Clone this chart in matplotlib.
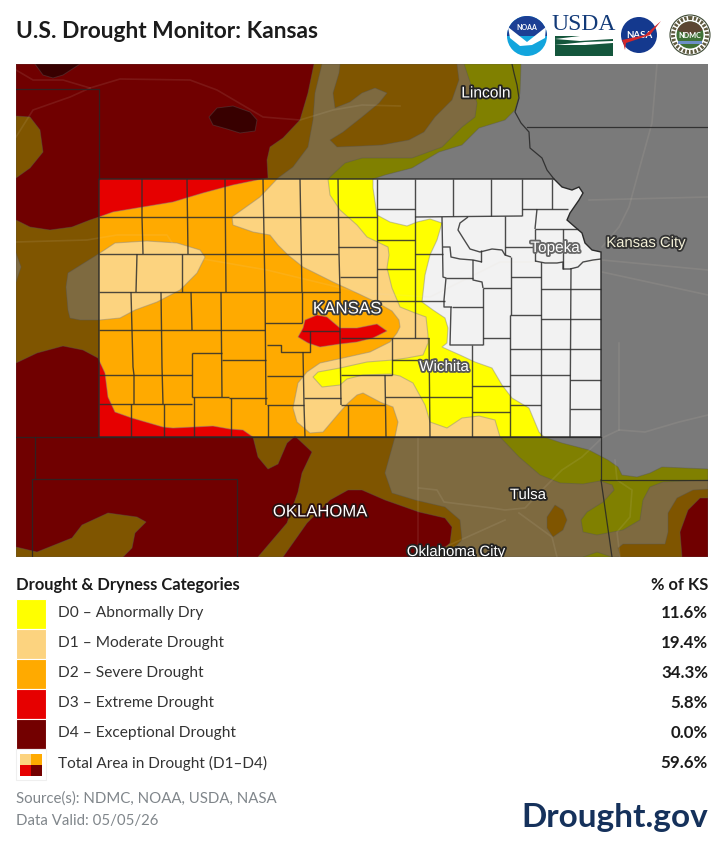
import matplotlib
matplotlib.use("Agg")
import matplotlib.pyplot as plt
import matplotlib.patheffects as pe
from matplotlib.patches import Polygon, Rectangle, Circle, Wedge

plt.rcParams['font.family'] = ['Lato', 'DejaVu Sans']

# legend table
category_labels = ["D0 – Abnormally Dry", "D1 – Moderate Drought", "D2 – Severe Drought",
                   "D3 – Extreme Drought", "D4 – Exceptional Drought"]
category_colors = ["#ffff00", "#fcd37f", "#ffaa00", "#e60000", "#730000"]
muted_colors = ["#808000", "#7e6a40", "#7f5500", "#700000", "#380000"]
category_percent = ["11.6%", "19.4%", "34.3%", "5.8%", "0.0%"]
total_label = "Total Area in Drought (D1–D4)"
total_percent = "59.6%"

# drought outlines (screen px)
d0_area = [(16, 64), (521, 64), (520, 93), (515, 110), (505, 120), (479, 128), (462, 145), (439, 152), (412, 168),
           (385, 175), (373, 179), (373, 188), (377, 215), (390, 222), (407, 226), (417, 222), (430, 219), (442, 223),
           (437, 240), (430, 255), (425, 275), (422, 302), (433, 310), (445, 318), (448, 328), (447, 343), (442, 347),
           (460, 355), (475, 362), (492, 368), (502, 385), (512, 398), (529, 408), (539, 432), (544, 437), (562, 443),
           (589, 450), (608, 460), (618, 467), (622, 475), (637, 477), (650, 473), (662, 467), (708, 469), (708, 557),
           (16, 557)]
d1_area = [(16, 64), (464, 64), (477, 103), (475, 117), (462, 127), (442, 147), (412, 158), (362, 158), (345, 163),
           (332, 175), (328, 179), (330, 195), (340, 210), (357, 225), (367, 237), (388, 247), (389, 255), (387, 268),
           (392, 288), (400, 307), (415, 313), (426, 317), (428, 335), (428, 343), (423, 355), (407, 358), (393, 360),
           (367, 362), (340, 368), (318, 372), (313, 377), (322, 387), (340, 385), (347, 379), (363, 375), (390, 374),
           (400, 376), (413, 383), (425, 405), (430, 422), (447, 428), (462, 418), (479, 416), (495, 420), (500, 437),
           (519, 457), (540, 475), (560, 483), (583, 484), (600, 481), (612, 485), (614, 490), (603, 502), (587, 512),
           (581, 520), (583, 532), (597, 535), (623, 530), (640, 520), (643, 500), (650, 487), (663, 482), (683, 481),
           (708, 480), (708, 557), (16, 557)]
d2_main = [(16, 64), (322, 64), (315, 93), (313, 120), (308, 147), (293, 167), (278, 178), (260, 197), (232, 217),
           (233, 225), (253, 232), (270, 235), (278, 245), (288, 255), (303, 267), (333, 282), (357, 293), (378, 303),
           (392, 311), (399, 320), (400, 327), (397, 333), (390, 342), (370, 352), (343, 358), (320, 363), (307, 372),
           (298, 383), (293, 408), (297, 422), (310, 433), (323, 432), (340, 412), (348, 403), (357, 395), (363, 393),
           (380, 402), (393, 407), (398, 422), (395, 437), (385, 473), (392, 493), (415, 500), (445, 507), (460, 520),
           (462, 540), (445, 557), (16, 557)]
d2_north = [(340, 64), (339, 73), (333, 93), (335, 108), (350, 102), (362, 93), (375, 88), (387, 93), (379, 103),
            (362, 117), (343, 132), (330, 140), (337, 147), (362, 146), (382, 145), (409, 140), (424, 132), (435, 117),
            (452, 100), (459, 80), (457, 64)]
d2_tulsa = [(555, 505), (563, 510), (567, 520), (563, 530), (553, 537), (547, 528), (547, 517)]
d2_southeast = [(618, 548), (623, 544), (665, 544), (668, 532), (668, 513), (677, 498), (693, 490), (708, 489),
                (708, 557), (620, 557)]
d1_west = [(100, 253), (68, 273), (66, 287), (68, 310), (70, 318), (80, 320), (100, 320), (120, 318), (135, 310),
           (157, 302), (180, 290), (197, 273), (205, 257), (200, 250), (177, 243), (147, 241), (115, 243)]
d1_edge = [(16, 253), (21, 267), (16, 282)]
d0_bottom = [(583, 557), (597, 552), (612, 557)]
d3_north = [(16, 64), (314, 64), (308, 93), (300, 120), (283, 138), (270, 147), (267, 160), (268, 178), (262, 179),
            (233, 185), (203, 193), (173, 202), (143, 207), (113, 212), (99, 217), (90, 220), (72, 227), (50, 230),
            (30, 227), (16, 220), (16, 178), (30, 168), (43, 152), (40, 130), (30, 117), (16, 116)]
d3_south = [(16, 363), (37, 353), (63, 346), (83, 350), (98, 358), (105, 373), (108, 397), (115, 412), (132, 418),
            (163, 427), (173, 428), (213, 426), (230, 429), (243, 430), (253, 437), (258, 457), (268, 469), (278, 464),
            (287, 443), (295, 436), (312, 452), (302, 473), (298, 492), (287, 523), (258, 557), (123, 557), (132, 548),
            (135, 533), (146, 522), (137, 517), (108, 513), (82, 525), (72, 538), (37, 552), (16, 547)]
d3_oklahoma = [(283, 557), (307, 523), (330, 500), (348, 490), (362, 490), (385, 500), (419, 512), (445, 518),
               (452, 527), (450, 543), (435, 557)]
d3_southeast = [(708, 498), (700, 498), (688, 510), (680, 532), (682, 557), (708, 557)]
d3_kansas = [(298, 337), (303, 328), (305, 320), (317, 315), (327, 317), (340, 328), (357, 328), (377, 324), (387, 331),
             (373, 338), (357, 342), (340, 344), (320, 347), (308, 343)]
d4_top = [(35, 64), (43, 75), (53, 78), (63, 75), (80, 64)]
d4_nebraska = [(209, 117), (217, 108), (233, 106), (250, 112), (257, 120), (255, 131), (240, 133), (227, 129), (213, 125)]

# painted bottom to top: (outline, category)
drought_layers = [(d0_area, 0), (d1_area, 1), (d2_main, 2), (d2_north, 2), (d2_tulsa, 2), (d2_southeast, 2),
                  (d1_west, 1), (d1_edge, 1), (d0_bottom, 0), (d3_north, 3), (d3_south, 3), (d3_oklahoma, 3),
                  (d3_southeast, 3), (d3_kansas, 3), (d4_top, 4), (d4_nebraska, 4)]

kansas_outline = [(99, 179), (554, 179), (562, 187), (572, 190), (579, 187), (583, 193), (579, 200), (570, 213),
                  (567, 220), (575, 227), (582, 233), (585, 243), (592, 250), (601, 252), (601, 437), (99, 437)]

state_lines = [[(512, 64), (514, 73), (517, 85), (519, 98), (515, 112), (521, 123), (529, 132), (530, 148), (542, 158),
                (547, 170), (554, 179)],
               [(527, 127), (708, 127)], [(16, 89), (99, 89), (99, 179)], [(16, 437), (601, 437)],
               [(601, 437), (601, 480), (708, 480)], [(601, 480), (612, 557)], [(35, 437), (35, 479)],
               [(32, 557), (32, 479), (237, 479), (237, 557)]]

county_lines = [
    # west and central rows
    [(99, 217), (377, 217)], [(99, 254), (338, 254)], [(99, 292), (340, 292)], [(99, 330), (265, 330)],
    [(99, 375), (192, 375)], [(99, 404), (192, 404)], [(192, 353), (222, 353)], [(222, 360), (266, 360)],
    [(192, 397), (229, 397)], [(229, 398), (267, 398)], [(265, 323), (302, 323)], [(302, 331), (340, 331)],
    [(267, 345), (281, 345), (281, 352), (310, 352), (310, 331)], [(267, 376), (303, 376)], [(267, 405), (304, 405)],
    [(304, 398), (341, 398)], [(341, 405), (385, 405)], [(341, 375), (392, 375)], [(341, 338), (429, 338)],
    [(392, 360), (429, 360)], [(385, 397), (472, 397)], [(338, 247), (377, 247)], [(340, 277), (377, 277)],
    [(377, 209), (415, 209)], [(377, 240), (415, 240)], [(377, 269), (415, 269)], [(377, 301), (445, 301)],
    [(415, 254), (443, 254)], [(415, 217), (522, 216)],
    [(142, 179), (142, 217), (143, 254)], [(187, 179), (188, 254)], [(137, 254), (136, 292)], [(182, 254), (182, 292)],
    [(225, 179), (226, 292)], [(263, 179), (265, 292)], [(300, 179), (302, 292)], [(338, 179), (339, 254), (340, 292)],
    [(131, 292), (132, 330), (133, 367), (134, 375), (134, 404)], [(161, 292), (162, 367), (163, 404)],
    [(191, 292), (192, 330)], [(221, 292), (222, 397)], [(265, 292), (266, 405)], [(302, 292), (302, 323)],
    [(340, 292), (340, 331), (341, 405)], [(192, 353), (192, 397)], [(303, 352), (304, 405)],
    [(131, 404), (131, 437)], [(164, 404), (164, 437)], [(194, 397), (194, 437)], [(231, 398), (231, 437)],
    [(268, 405), (268, 437)], [(304, 405), (305, 437)], [(348, 405), (348, 437)], [(385, 375), (386, 437)],
    [(392, 338), (392, 375)], [(429, 338), (430, 437)], [(377, 179), (377, 301)], [(415, 179), (415, 338)],
    # east side
    [(453, 179), (453, 216)], [(491, 179), (491, 216)], [(522, 179), (522, 216)], [(552, 179), (552, 209)],
    [(522, 209), (568, 209)], [(537, 209), (535, 229)], [(505, 216), (505, 255)], [(535, 229), (578, 229)],
    [(535, 229), (535, 261)], [(563, 229), (563, 269)], [(505, 247), (535, 247)],
    [(468, 217), (460, 223), (458, 230), (463, 238), (470, 249), (480, 252), (492, 249), (502, 250), (505, 255), (511, 257)],
    [(442, 217), (443, 277), (446, 278), (444, 300), (444, 307), (452, 307)],
    [(443, 247), (450, 247), (451, 257), (460, 259), (473, 260), (482, 262)],
    [(481, 250), (481, 262)], [(473, 260), (473, 280), (482, 282), (483, 288)], [(446, 278), (473, 278)],
    [(483, 288), (511, 288)], [(511, 257), (511, 315)], [(511, 277), (541, 277)], [(541, 262), (541, 437)],
    [(571, 268), (570, 437)], [(541, 289), (601, 289)], [(541, 319), (601, 319)], [(510, 315), (541, 315)],
    [(452, 307), (483, 307)], [(483, 288), (483, 345)], [(451, 307), (450, 345), (483, 345)],
    [(483, 338), (510, 338)], [(510, 315), (510, 437)], [(472, 345), (472, 437)], [(472, 386), (510, 386)],
    [(472, 412), (510, 412)], [(510, 349), (601, 349)], [(510, 375), (570, 375)], [(570, 380), (601, 380)],
    [(570, 409), (601, 409)], [(510, 405), (541, 405)],
    [(535, 261), (545, 263), (557, 263), (563, 262), (563, 269), (570, 269), (578, 267), (583, 262), (593, 260), (601, 259)],
]

roads = [[(16, 70), (33, 80), (63, 80), (90, 88), (120, 79), (190, 80), (217, 90), (263, 117), (300, 120), (333, 110), (362, 105), (400, 106)],
         [(16, 137), (33, 110), (70, 97), (90, 88)],
         [(16, 242), (87, 240), (117, 235), (167, 235), (180, 255), (267, 270), (362, 293), (430, 297), (500, 262), (601, 262)],
         [(419, 488), (437, 490), (444, 502), (492, 508), (505, 510), (525, 508), (545, 487), (562, 470), (582, 457), (602, 438), (619, 430), (645, 432), (679, 422), (708, 415)],
         [(519, 513), (552, 537), (557, 557)], [(505, 520), (445, 547)], [(418, 437), (418, 557)], [(619, 343), (619, 430)],
         [(657, 64), (652, 123), (639, 170), (629, 207), (619, 227), (602, 247)], [(602, 260), (708, 270)], [(602, 272), (708, 295)],
         [(589, 200), (708, 197)], [(615, 460), (617, 480), (632, 490), (630, 517), (617, 532), (620, 557)]]

# name, x, y, size, text color, halo color
map_labels = [("Lincoln", 486, 93, 11.2, "white", "#222222"), ("Kansas City", 646, 243, 10.7, "#f4f1d8", "#333333"),
              ("Topeka", 555, 248, 11, "white", "#666666"), ("KANSAS", 347, 309, 12.2, "white", "#3a3a3a"),
              ("Wichita", 444, 367, 10.9, "white", "#555555"), ("Tulsa", 528, 495, 10.8, "white", "#222222"),
              ("OKLAHOMA", 320, 512, 12, "white", "#2a1010"), ("Oklahoma City", 456, 552, 10.8, "white", "#222222")]

fig = plt.figure(figsize=(7.24, 8.61), dpi=100)

# page axes in pixels
ax = fig.add_axes([0, 0, 1, 1])
ax.set_xlim(0, 724)
ax.set_ylim(861, 0)
ax.axis("off")

# map axes, same pixel units so the outlines clip at the frame
ax_map = fig.add_axes([16 / 724, 1 - 557 / 861, 692 / 724, 493 / 861])
ax_map.set_xlim(16, 708)
ax_map.set_ylim(557, 64)
ax_map.axis("off")

ax_map.add_patch(Rectangle((16, 64), 692, 493, fc="#7a7a7a", ec="none", zorder=0))
for outline, cat in drought_layers:
    ax_map.add_patch(Polygon(outline, fc=muted_colors[cat], ec="#55555566", lw=0.7, zorder=1))

kansas = Polygon(kansas_outline, fc="#f2f2f2", ec="none", zorder=2)
ax_map.add_patch(kansas)
for outline, cat in drought_layers:
    p = Polygon(outline, fc=category_colors[cat], ec="#88888877", lw=0.8, zorder=3)
    ax_map.add_patch(p)
    p.set_clip_path(kansas)

for line in roads:
    xs, ys = zip(*line)
    ax_map.plot(xs, ys, color="#e8dcc8", lw=1.2, alpha=0.1, zorder=4)
for line in state_lines:
    xs, ys = zip(*line)
    ax_map.plot(xs, ys, color="#262626", lw=0.9, alpha=0.85, zorder=5)
for line in county_lines:
    xs, ys = zip(*line)
    ax_map.plot(xs, ys, color="#2e2e2e", lw=1.0, alpha=0.85, zorder=5, solid_capstyle="butt")
ax_map.add_patch(Polygon(kansas_outline, fc="none", ec="#2a2a2a", lw=1.0, zorder=6))

for name, x, y, size, col, halo in map_labels:
    ax_map.text(x, y, name, fontsize=size, color=col, family="Liberation Sans", ha="center", va="center", zorder=8,
                clip_on=True, path_effects=[pe.withStroke(linewidth=2.6, foreground=halo)])

# title and logos
ax.text(16, 31, "U.S. Drought Monitor: Kansas", fontsize=16.4, fontweight="bold", color="#1b1b1b", va="center")

ax.add_patch(Circle((527, 36), 20, fc="#12a5dd", ec="none"))
ax.add_patch(Wedge((527, 36), 20, 180, 360, fc="#1c3f94", ec="none"))
ax.add_patch(Polygon([(508, 27), (527, 42), (546, 27), (545, 38), (532, 45), (520, 46), (510, 38)], fc="white", ec="none"))
ax.text(527, 27, "NOAA", fontsize=5, fontweight="bold", color="white", ha="center", va="center")

ax.text(583.5, 25, "USDA", fontsize=17, color="#123a78", family="Liberation Serif", ha="center", va="center")
ax.add_patch(Rectangle((555, 36), 58, 20, fc="#14563c", ec="none"))
ax.add_patch(Polygon([(555, 39), (580, 36), (613, 36), (613, 39), (580, 41)], fc="white", ec="none"))
ax.add_patch(Polygon([(555, 45), (585, 42), (613, 41), (613, 43), (585, 45)], fc="white", ec="none"))

ax.add_patch(Circle((639, 35), 18, fc="#14398e", ec="none"))
ax.text(639, 36, "NASA", fontsize=7, fontweight="bold", color="white", ha="center", va="center", zorder=3)
ax.add_patch(Polygon([(622, 40), (645, 35), (661, 21), (650, 35), (626, 43), (625, 50), (623, 42)], fc="#d4282a", ec="none", zorder=4))

ax.add_patch(Circle((690, 35), 20, fc="white", ec="#3d4a35", lw=0.8))
ax.add_patch(Circle((690, 35), 17, fc="none", ec="#5f5a3f", lw=2.8, ls=(0, (0.6, 0.4))))
ax.add_patch(Circle((690, 35), 13.5, fc="#3f7136", ec="none"))
ax.add_patch(Wedge((690, 35), 13.5, 200, 340, fc="#5c4632", ec="none"))
ax.add_patch(Rectangle((678, 41), 24, 2.5, fc="#6d8fc7", ec="none"))
ax.text(690, 35, "NDMC", fontsize=5.2, fontweight="bold", color="white", ha="center", va="center")

# legend
ax.text(16, 585, "Drought & Dryness Categories", fontsize=11.9, fontweight="bold", color="#1b1b1b", va="center")
ax.text(708, 585, "% of KS", fontsize=11.9, fontweight="bold", color="#1b1b1b", va="center", ha="right")
for i, label in enumerate(category_labels):
    y = 599 + 30 * i
    ax.add_patch(Rectangle((16, y), 30, 30, fc=category_colors[i], ec="white", lw=0.8))
    ax.text(58, y + 14.5, label, fontsize=11.2, color="#333333", va="center")
    ax.text(708, y + 14.5, category_percent[i], fontsize=12.2, fontweight="bold", color="#1b1b1b", va="center", ha="right")

ax.add_patch(Rectangle((16, 749), 30, 31, fc="white", ec="#efefef", lw=0.8))
for i, (sx, sy) in enumerate([(20, 754), (31, 754), (20, 765), (31, 765)]):
    ax.add_patch(Rectangle((sx, sy), 11, 11, fc=category_colors[i + 1], ec="none"))
ax.text(58, 763.5, total_label, fontsize=11.1, color="#333333", va="center")
ax.text(708, 763.5, total_percent, fontsize=12.2, fontweight="bold", color="#1b1b1b", va="center", ha="right")

ax.text(16, 799, "Source(s): NDMC, NOAA, USDA, NASA", fontsize=10.8, color="#80868b", va="center")
ax.text(16, 821, "Data Valid: 05/05/26", fontsize=10.8, color="#80868b", va="center")
ax.text(708, 817, "Drought.gov", fontsize=24, fontweight="bold", color="#15315b", va="center", ha="right")

fig.savefig("out.png", dpi=100)
